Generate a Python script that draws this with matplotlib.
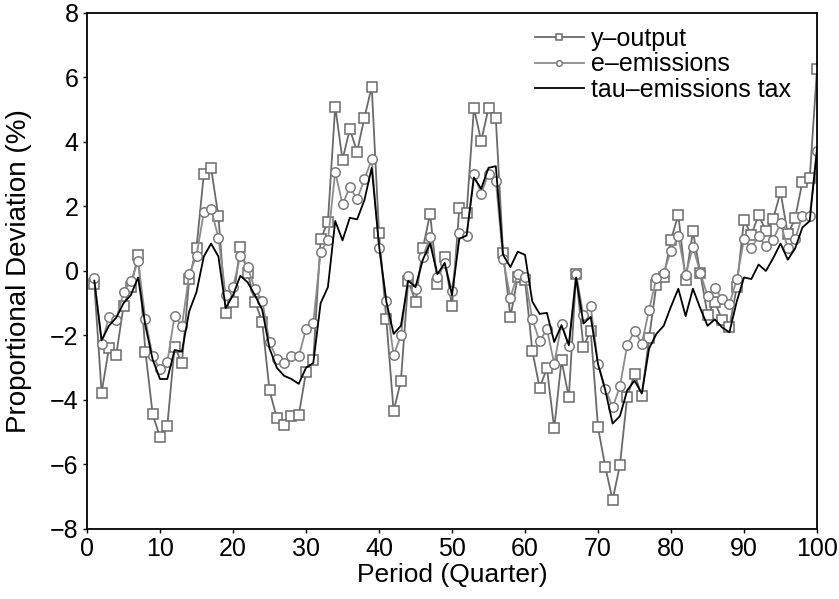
import numpy as np
import matplotlib
matplotlib.use("Agg")
import matplotlib.pyplot as plt

plt.rcParams['font.family'] = ['Liberation Sans', 'DejaVu Sans']

periods = list(range(1, 101))

y_output = [
    -0.4, -3.77, -2.4, -2.6, -1.1, -0.5, 0.5, -2.5, -4.45, -5.15,
    -4.8, -2.35, -2.85, -0.25, 0.72, 3.0, 3.18, 1.7, -1.3, -0.95,
    0.75, -0.05, -0.95, -1.57, -3.7, -4.56, -4.77, -4.5, -4.48, -3.14,
    -2.75, 0.98, 1.53, 5.1, 3.45, 4.4, 3.7, 4.75, 5.72, 1.18,
    -1.5, -4.35, -3.4, -0.3, -0.95, 0.7, 1.77, -0.4, 0.44, -1.1,
    1.95, 1.8, 5.05, 4.03, 5.05, 4.73, 0.55, -1.42, -0.2, -0.27,
    -2.48, -3.62, -3.02, -4.88, -2.77, -3.92, -0.1, -2.35, -1.85, -4.85,
    -6.08, -7.1, -6.02, -3.9, -3.2, -3.87, -2.07, -0.42, -0.2, 0.97,
    1.74, -0.27, 1.23, -0.05, -1.35, -0.95, -1.52, -1.75, -0.5, 1.58,
    1.12, 1.74, 1.24, 1.62, 2.45, 1.14, 1.63, 2.77, 2.87, 6.27,
]

e_emissions = [
    -0.22, -2.25, -1.44, -1.52, -0.65, -0.32, 0.3, -1.5, -2.65, -3.05,
    -2.82, -1.39, -1.7, -0.1, 0.48, 1.82, 1.92, 1.03, -0.75, -0.5,
    0.47, 0.12, -0.56, -0.92, -2.2, -2.72, -2.85, -2.65, -2.65, -1.8,
    -1.6, 0.59, 0.95, 3.07, 2.07, 2.6, 2.22, 2.84, 3.46, 0.72,
    -0.92, -2.62, -2.0, -0.15, -0.57, 0.44, 1.04, -0.2, 0.24, -0.63,
    1.18, 1.09, 3.0, 2.4, 3.02, 2.8, 0.37, -0.83, -0.08, -0.18,
    -1.5, -2.18, -1.8, -2.88, -1.63, -2.32, -0.08, -1.38, -1.1, -2.87,
    -3.65, -4.23, -3.58, -2.3, -1.86, -2.25, -1.2, -0.22, -0.05, 0.63,
    1.07, -0.12, 0.75, -0.05, -0.77, -0.53, -0.87, -1.03, -0.26, 0.98,
    0.71, 1.08, 0.77, 0.97, 1.48, 0.71, 0.98, 1.72, 1.72, 3.73,
]

tau_tax = [
    -0.3, -2.15, -1.7, -1.45, -1.0, -0.75, -0.2, -1.7, -2.75, -3.35,
    -3.35, -2.45, -2.5, -1.25, -0.65, 0.45, 0.85, 0.45, -1.15, -0.75,
    -0.15, -0.35, -0.75, -1.2, -2.4, -3.0, -3.25, -3.35, -3.5, -3.0,
    -2.85, -1.0, -0.5, 1.55, 0.95, 1.65, 1.6, 2.2, 3.2, 0.8,
    -0.95, -1.95, -1.7, -0.3, -0.5, 0.35, 0.85, -0.1, 0.25, -0.75,
    1.0, 1.1, 2.9, 2.55, 3.2, 3.25, 0.5, 0.12, 0.6, 0.5,
    -0.95, -1.33, -1.3, -2.2, -1.68, -2.3, -0.2, -1.63, -1.42, -2.89,
    -3.7, -4.73, -4.5, -3.7, -3.4, -3.8, -2.4, -1.95, -1.7, -1.1,
    -0.55, -1.4, -0.55, -1.15, -1.7, -1.5, -1.75, -1.9, -0.95, -0.2,
    -0.25, 0.2, 0.0, 0.4, 0.85, 0.35, 0.7, 1.35, 1.55, 3.8,
]

fig = plt.figure(figsize=(8.39, 5.99), dpi=100)
ax = fig.add_axes([0.1037, 0.1169, 0.8701, 0.8614])

ax.plot(periods, y_output, color="#6a6a6a", linewidth=1.3, marker="s",
        markersize=6.8, markerfacecolor="white", markeredgecolor="#6a6a6a",
        markeredgewidth=1.1, label="y\u2013output")
ax.plot(periods, e_emissions, color="#8c8c8c", linewidth=1.3, marker="o",
        markersize=6.8, markerfacecolor="white", markeredgecolor="#7a7a7a",
        markeredgewidth=1.1, label="e\u2013emissions")
ax.plot(periods, tau_tax, color="black", linewidth=1.3,
        label="tau\u2013emissions tax")

ax.set_xlim(0, 100)
ax.set_ylim(-8, 8)
ax.set_xticks(range(0, 101, 10))
ax.set_yticks(range(-8, 9, 2))
ax.set_yticklabels(["\u22128", "\u22126", "\u22124", "\u22122", "0", "2", "4", "6", "8"])
ax.tick_params(direction="out", length=3, width=1, labelsize=18, pad=3)
for s in ax.spines.values():
    s.set_linewidth(1.3)

ax.set_xlabel("Period (Quarter)", fontsize=19, labelpad=1)
ax.set_ylabel("Proportional Deviation (%)", fontsize=20, labelpad=13)

ax.legend(loc="upper left", frameon=False, fontsize=18, markerscale=0.6,
          handlelength=1.95, handletextpad=0.3, labelspacing=0.05,
          borderaxespad=0.0, bbox_to_anchor=(0.6, 0.992))

fig.savefig("out.png", dpi=100)
